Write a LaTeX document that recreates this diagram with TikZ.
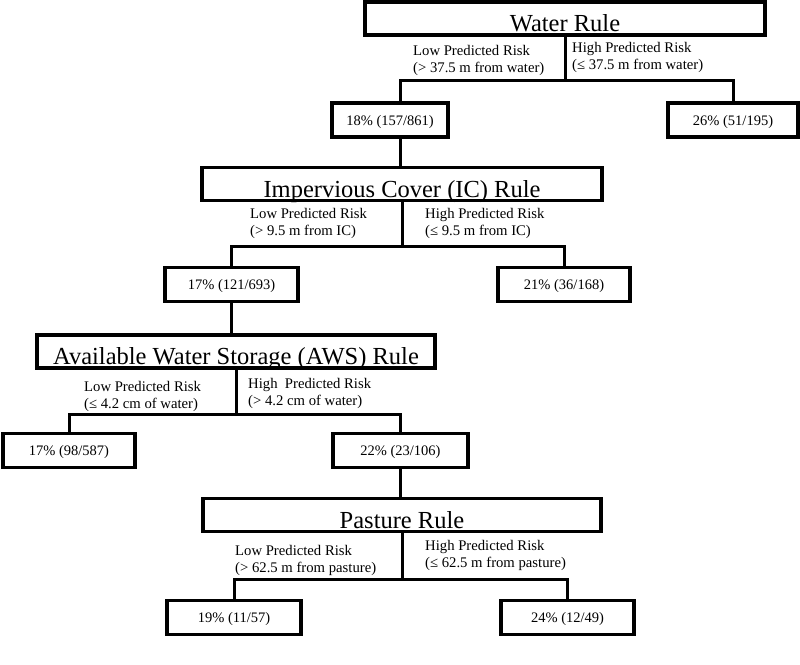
\documentclass[tikz,border=0pt]{standalone}
\usepackage{fontspec}
\setmainfont{Liberation Serif}
\tikzset{
  rulebox/.style={draw,line width=3.2pt,inner xsep=0pt,inner ysep=2pt,
    minimum height=33pt,text height=27pt,text depth=1pt,
    font=\fontsize{24.5}{28}\selectfont},
  leafbox/.style={draw,line width=3.2pt,inner sep=0pt,minimum height=34pt,
    text height=10pt,text depth=0pt,font=\fontsize{14.5}{17}\selectfont},
  risk/.style={anchor=north west,align=left,inner sep=0pt,
    font=\fontsize{14.7}{17}\selectfont},
  link/.style={line width=3pt}
}

\begin{document}
\begin{tikzpicture}[x=1pt,y=-1pt]
  \useasboundingbox (0,0) rectangle (800,664);
  \node[rulebox,minimum width=400pt] (water) at (565,18.5) {Water Rule};
  \node[leafbox,minimum width=116pt] (w18) at (390,120) {18\% (157/861)};
  \node[leafbox,minimum width=130pt] (w26) at (733,120) {26\% (51/195)};
  \node[rulebox,minimum width=400pt] (ic) at (402,184) {Impervious Cover (IC) Rule};
  \node[leafbox,minimum width=133pt] (i17) at (231.5,284.5) {17\% (121/693)};
  \node[leafbox,minimum width=132pt] (i21) at (564,284.5) {21\% (36/168)};
  \node[rulebox,minimum width=398pt] (aws) at (236,351.5) {Available Water Storage (AWS) Rule};
  \node[leafbox,minimum width=132pt] (a17) at (69,450.5) {17\% (98/587)};
  \node[leafbox,minimum width=135pt] (a22) at (400.5,450.5) {22\% (23/106)};
  \node[rulebox,minimum width=398pt] (pas) at (402,515) {Pasture Rule};
  \node[leafbox,minimum width=134pt] (p19) at (234,617.5) {19\% (11/57)};
  \node[leafbox,minimum width=133pt] (p24) at (567.5,617.5) {24\% (12/49)};

  \coordinate (wj) at (565,80); \coordinate (icj) at (400,246);
  \coordinate (awsj) at (233,414); \coordinate (pj) at (400,579);

  \draw[link] (water.south) -- (water.south |- wj);
  \draw[link] ([xshift=10pt]w18.north) |- (wj) -| (w26.north);
  \draw[link] ([xshift=10pt]w18.south) -- ([xshift=10pt]w18.south |- ic.north);
  \draw[link] (ic.south) -- (ic.south |- icj);
  \draw[link] (i17.north) |- (icj) -| (i21.north);
  \draw[link] (i17.south) -- (i17.south |- aws.north);
  \draw[link] (aws.south) -- (aws.south |- awsj);
  \draw[link] (a17.north) |- (awsj) -| (a22.north);
  \draw[link] (a22.south) -- (a22.south |- pas.north);
  \draw[link] (pas.south) -- (pas.south |- pj);
  \draw[link] (p19.north) |- (pj) -| (p24.north);

  \node[risk] (wlo) at (413,45) {Low Predicted Risk\\(> 37.5 m from water)};
  \node[risk] (whi) at (572,42) {High Predicted Risk\\(≤ 37.5 m from water)};
  \node[risk] (iclo) at (250,208) {Low Predicted Risk\\(> 9.5 m from IC)};
  \node[risk] (ichi) at (425,208) {High Predicted Risk\\(≤ 9.5 m from IC)};
  \node[risk] (awslo) at (84,381) {Low Predicted Risk\\(≤ 4.2 cm of water)};
  \node[risk] (awshi) at (248,378) {High\ \ Predicted Risk\\(> 4.2 cm of water)};
  \node[risk] (paslo) at (235,545) {Low Predicted Risk\\(> 62.5 m from pasture)};
  \node[risk] (pashi) at (425,540) {High Predicted Risk\\(≤ 62.5 m from pasture)};
\end{tikzpicture}
\end{document}
